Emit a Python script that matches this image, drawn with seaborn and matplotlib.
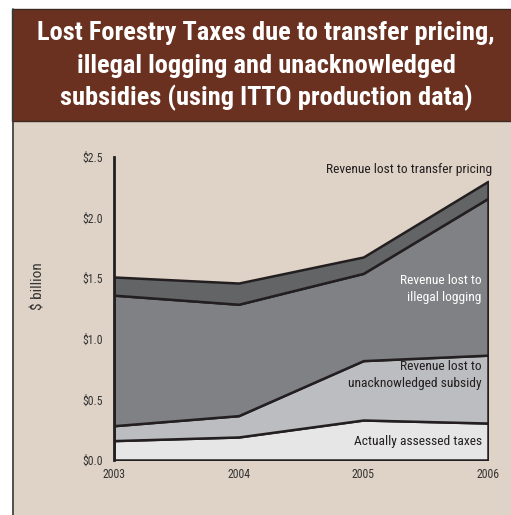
import numpy as np
import pandas as pd
import matplotlib.pyplot as plt
import seaborn as sns
from matplotlib import font_manager
from matplotlib.patches import Rectangle
from matplotlib.lines import Line2D

years = [2003, 2004, 2005, 2006]
taxes = [0.16, 0.19, 0.33, 0.305]
subsidy = [0.123, 0.176, 0.49, 0.56]
illegal = [1.077, 0.919, 0.72, 1.294]
transfer = [0.15, 0.175, 0.135, 0.14]

layer_names = ["Actually assessed taxes", "Revenue lost to\nunacknowledged subsidy",
               "Revenue lost to\nillegal logging", "Revenue lost to transfer pricing"]
colors = ["#e6e6e7", "#bcbdc0", "#808184", "#636466"]
ytick_labels = ["$0.0", "$0.5", "$1.0", "$1.5", "$2.0", "$2.5"]
title_lines = ["Lost Forestry Taxes due to transfer pricing,",
               "illegal logging and unacknowledged",
               "subsidies (using ITTO production data)"]

df = pd.DataFrame({"year": years, "taxes": taxes, "subsidy": subsidy,
                   "illegal": illegal, "transfer": transfer})

# pick a narrow font if one is installed
installed = {f.name for f in font_manager.fontManager.ttflist}
font = "Liberation Sans"
for cand in ["Roboto Condensed", "Liberation Sans Narrow", "Open Sans Condensed"]:
    if cand in installed:
        font = cand
        break
narrow = font != "Liberation Sans"

sns.set_theme(style="white")
plt.rcParams['font.family'] = [font, 'DejaVu Sans']

bg = "#dfd3c7"
fig = plt.figure(figsize=(5.11, 5.15), dpi=100)
fig.patch.set_facecolor("white")

# panel background + title band
fig.add_artist(Rectangle((12/511, 0), 1, 1 - 9/515, transform=fig.transFigure,
                         facecolor=bg, edgecolor="none", zorder=-2))
fig.add_artist(Rectangle((12/511, 1 - 121/515), 1, 112/515, transform=fig.transFigure,
                         facecolor="#6a3120", edgecolor="#3a2a22", lw=1.0, zorder=-1))
fig.add_artist(Line2D([12.5/511, 12.5/511], [0, 1 - 9/515], transform=fig.transFigure,
                      color="#3a3a3a", lw=1.2))
tsize = 19 if narrow else 13.8
for i, line in enumerate(title_lines):
    fig.text(266/511, 1 - (33 + 32.5 * i)/515, line, ha="center", va="center",
             color="white", fontsize=tsize, fontweight="bold")

ax = fig.add_axes([114/511, 1 - 460/515, 374/511, 303/515])
ax.set_facecolor(bg)
ax.stackplot(df["year"], df["taxes"], df["subsidy"], df["illegal"], df["transfer"],
             colors=colors, edgecolor="#231f20", linewidth=1.8)
ax.set_xlim(2003, 2006)
ax.set_ylim(0, 2.5)
ax.set_xticks(years)
ax.set_xticklabels([str(y) for y in years], fontsize=8.5, color="#333333")
ax.set_yticks(np.arange(0, 2.51, 0.5))
ax.set_yticklabels(ytick_labels, fontsize=8.5, color="#333333")
for s in ["top", "right", "bottom"]:
    ax.spines[s].set_visible(False)
ax.spines["left"].set_color("#231f20")
ax.spines["left"].set_linewidth(2)
ax.tick_params(axis="y", direction="out", length=4, width=1.2, color="#231f20", pad=4)
ax.tick_params(axis="x", direction="out", length=3, width=1, color="#231f20", pad=3)
ax.set_ylabel("")
ax.set_xlabel("")
fig.text(39/511, 1 - 286/515, "$ billion", rotation=90, ha="center", va="center",
         fontsize=11, color="#333333")

lsize = 9.7 if narrow else 7.6
ax.text(2006.03, 2.40, layer_names[3], ha="right", va="center", fontsize=lsize, color="#231f20")
ax.text(2005.95, 1.41, layer_names[2], ha="right", va="center", fontsize=lsize, color="white",
        linespacing=1.35)
ax.text(2005.95, 0.70, layer_names[1], ha="right", va="center", fontsize=lsize, color="#231f20",
        linespacing=1.35)
ax.text(2005.95, 0.15, layer_names[0], ha="right", va="center", fontsize=lsize, color="#231f20")

fig.savefig("out.png", dpi=100, facecolor=fig.get_facecolor())
